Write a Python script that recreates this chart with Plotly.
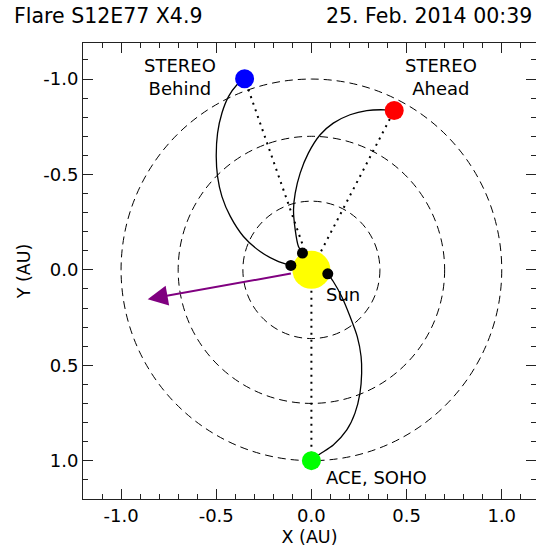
import plotly.graph_objects as go

# ---------------- data (AU) ----------------
orbit_radii = [0.36, 0.70, 1.0]

sc_labels = ["STEREO<br>Behind", "STEREO<br>Ahead", "ACE, SOHO"]
sc_x = [-0.351, 0.435, 0.0]
sc_y = [-1.002, -0.835, 1.0]
sc_colors = ["#0000ff", "#ff0000", "#00ff00"]

foot_x = [-0.108, -0.047, 0.086]
foot_y = [-0.023, -0.088, 0.021]

spiral_behind_x = [-0.351, -0.391, -0.435, -0.470, -0.493, -0.500, -0.493, -0.470,
                   -0.426, -0.357, -0.269, -0.181, -0.108]
spiral_behind_y = [-1.002, -0.970, -0.909, -0.822, -0.717, -0.594, -0.489, -0.384,
                   -0.280, -0.175, -0.096, -0.047, -0.023]

spiral_ahead_x = [0.435, 0.386, 0.291, 0.203, 0.115, 0.046, -0.016, -0.059,
                  -0.085, -0.094, -0.085, -0.068, -0.047]
spiral_ahead_y = [-0.835, -0.839, -0.835, -0.813, -0.769, -0.708, -0.612, -0.507,
                  -0.402, -0.315, -0.210, -0.122, -0.088]

spiral_ace_x = [0.0, 0.037, 0.115, 0.186, 0.229, 0.255, 0.264, 0.261,
                0.241, 0.203, 0.159, 0.115, 0.086]
spiral_ace_y = [1.0, 0.970, 0.918, 0.839, 0.751, 0.647, 0.542, 0.454,
                0.350, 0.245, 0.140, 0.061, 0.021]

sun_x, sun_y = 0.0, 0.0
flare_start = (-0.100, 0.018)
flare_end = (-0.860, 0.154)

x_tick_vals = [-1.0, -0.5, 0.0, 0.5, 1.0]
x_tick_text = ["-1.0", "-0.5", "0.0", "0.5", "1.0"]
y_tick_vals = [-1.0, -0.5, 0.0, 0.5, 1.0]
y_tick_text = ["-1.0", "-0.5", "0.0", "0.5", "1.0"]

title_left = "Flare S12E77 X4.9"
title_right = "25. Feb. 2014 00:39"

# ---------------- figure ----------------
FONT = "DejaVu Sans"
fig = go.Figure()

# orbit circles (dashed)
shapes = []
for r in orbit_radii:
    shapes.append(dict(type="circle", xref="x", yref="y",
                       x0=-r, y0=-r, x1=r, y1=r,
                       line=dict(color="black", width=1, dash="8px,5px"),
                       layer="below"))

# dotted Sun-spacecraft lines
for x, y in zip(sc_x, sc_y):
    fig.add_trace(go.Scatter(x=[sun_x, x], y=[sun_y, y], mode="lines",
                             line=dict(color="black", width=2, dash="2px,5px"),
                             hoverinfo="skip", showlegend=False))

# spirals
for xs, ys in [(spiral_behind_x, spiral_behind_y),
               (spiral_ahead_x, spiral_ahead_y),
               (spiral_ace_x, spiral_ace_y)]:
    fig.add_trace(go.Scatter(x=xs, y=ys, mode="lines",
                             line=dict(color="black", width=1.3, shape="spline", smoothing=0.8),
                             hoverinfo="skip", showlegend=False))

# Sun
fig.add_trace(go.Scatter(x=[sun_x], y=[sun_y], mode="markers",
                         marker=dict(size=38, color="#ffff00", line=dict(width=0)),
                         showlegend=False))

# footpoints
fig.add_trace(go.Scatter(x=foot_x, y=foot_y, mode="markers",
                         marker=dict(size=11, color="black", line=dict(width=0)),
                         showlegend=False))

# spacecraft
fig.add_trace(go.Scatter(x=sc_x, y=sc_y, mode="markers",
                         marker=dict(size=19, color=sc_colors, line=dict(width=0)),
                         showlegend=False))

txt = dict(family=FONT, size=18, color="black")
annotations = [
    dict(x=-0.69, y=-1.012, xref="x", yref="y", text=sc_labels[0], showarrow=False,
         font=txt, xanchor="center", yanchor="middle", align="center"),
    dict(x=0.68, y=-1.012, xref="x", yref="y", text=sc_labels[1], showarrow=False,
         font=txt, xanchor="center", yanchor="middle", align="center"),
    dict(x=0.065, y=1.087, xref="x", yref="y", text=sc_labels[2], showarrow=False,
         font=txt, xanchor="left", yanchor="middle"),
    dict(x=0.068, y=0.131, xref="x", yref="y", text="Sun", showarrow=False,
         font=txt, xanchor="left", yanchor="middle"),
    # flare direction arrow
    dict(x=flare_end[0], y=flare_end[1], ax=flare_start[0], ay=flare_start[1],
         xref="x", yref="y", axref="x", ayref="y", text="", showarrow=True,
         arrowhead=2, arrowsize=2.0, arrowwidth=2, arrowcolor="#800080"),
    # titles
    dict(x=-0.1567, y=1.059, xref="paper", yref="paper", text=title_left, showarrow=False,
         font=dict(family=FONT, size=20.5, color="black"), xanchor="left", yanchor="middle"),
    dict(x=0.9956, y=1.059, xref="paper", yref="paper", text=title_right, showarrow=False,
         font=dict(family=FONT, size=20.5, color="black"), xanchor="right", yanchor="middle"),
]

axis_common = dict(
    ticks="inside", ticklen=10, tickwidth=1, tickcolor="#222222",
    showline=True, linecolor="#222222", linewidth=1, mirror="allticks",
    showgrid=False, zeroline=False,
    tickfont=dict(family=FONT, size=18, color="black"),
    minor=dict(ticks="inside", ticklen=5, tickwidth=1, tickcolor="#222222",
               dtick=0.1, tick0=0, showgrid=False),
)

fig.update_layout(
    width=536, height=551,
    margin=dict(l=83, r=0, t=43, b=52),
    paper_bgcolor="white", plot_bgcolor="white",
    shapes=shapes, annotations=annotations,
    xaxis=dict(range=[-1.2, 1.18], tickvals=x_tick_vals, ticktext=x_tick_text,
               title=dict(text="X (AU)", font=dict(family=FONT, size=17.5, color="black"), standoff=6),
               automargin=False, **axis_common),
    yaxis=dict(range=[1.201, -1.189], tickvals=y_tick_vals, ticktext=y_tick_text,
               title=dict(text="Y (AU)", font=dict(family=FONT, size=17.5, color="black"), standoff=8),
               automargin=False, **axis_common),
    showlegend=False,
)

# remove the default 8 px page margin so the 536x551 figure fills the window
fig.write_html("out.html",
               config={"displayModeBar": False, "staticPlot": True},
               post_script="document.body.style.margin='0';document.body.style.overflow='hidden';")
